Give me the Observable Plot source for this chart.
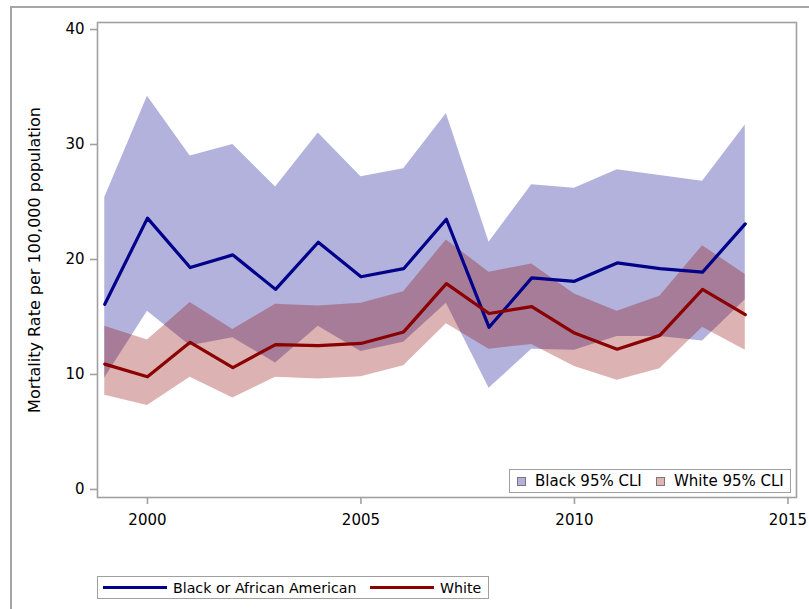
<!DOCTYPE html>
<html>
<head>
<meta charset="utf-8">
<script src="https://cdn.jsdelivr.net/npm/d3@7"></script>
<script src="https://cdn.jsdelivr.net/npm/@observablehq/plot@0.6"></script>
<style>
  html, body { margin: 0; padding: 0; background: #fff; overflow: hidden; }
  body { width: 809px; height: 609px; position: relative; font-family: "DejaVu Sans", sans-serif; }
  #outer { position: absolute; left: 10px; top: 6px; width: 900px; height: 700px;
           border-left: 2px solid #a6a6a6; border-top: 2px solid #a6a6a6; }
  #chart { position: absolute; left: 0; top: 0; }
  .legend { position: absolute; background: #fff; border: 1.5px solid #a0a0a0; box-sizing: border-box;
            font-size: 15px; color: #000; white-space: nowrap; }
  .legend span { position: absolute; top: 50%; transform: translateY(-50%); }
  .sw { position: absolute; width: 9px; height: 9px; box-sizing: border-box; border: 1px solid #777; }
  .ln { position: absolute; height: 3px; }
</style>
</head>
<body>
<div id="outer"></div>
<div id="chart"></div>
<div class="legend" id="legIn" style="left:509px; top:469px; width:282px; height:24px;">
  <div class="sw" style="left:7px; top:7px; background:#b3b0d9;"></div>
  <span style="left:25px;">Black 95% CLI</span>
  <div class="sw" style="left:146px; top:7px; background:#e1b3b3;"></div>
  <span style="left:164px;">White 95% CLI</span>
</div>
<div class="legend" id="legOut" style="left:97px; top:576px; width:392px; height:23px; font-size:14.2px;">
  <div class="ln" style="left:5px; top:9px; width:64px; background:#00008B;"></div>
  <span style="left:75px;">Black or African American</span>
  <div class="ln" style="left:272px; top:9px; width:64px; background:#8B0000;"></div>
  <span style="left:342px;">White</span>
</div>
<script>
const years = [1999, 2000, 2001, 2002, 2003, 2004, 2005, 2006, 2007, 2008, 2009, 2010, 2011, 2012, 2013, 2014];
const blackRate = [16.1, 23.6, 19.3, 20.4, 17.4, 21.5, 18.5, 19.2, 23.5, 14.1, 18.4, 18.1, 19.7, 19.2, 18.9, 23.1];
const blackLow  = [9.7, 15.5, 12.5, 13.2, 11.0, 14.2, 12.0, 12.8, 16.2, 8.8, 12.2, 12.1, 13.3, 13.3, 12.9, 16.5];
const blackHigh = [25.4, 34.2, 29.0, 30.0, 26.3, 31.0, 27.2, 27.9, 32.7, 21.5, 26.5, 26.2, 27.8, 27.3, 26.8, 31.7];
const whiteRate = [10.9, 9.8, 12.8, 10.6, 12.6, 12.5, 12.7, 13.7, 17.9, 15.3, 15.9, 13.6, 12.2, 13.4, 17.4, 15.2];
const whiteLow  = [8.2, 7.3, 9.75, 7.95, 9.75, 9.6, 9.8, 10.75, 14.4, 12.2, 12.6, 10.7, 9.5, 10.5, 14.1, 12.1];
const whiteHigh = [14.2, 13.0, 16.25, 13.9, 16.1, 15.95, 16.2, 17.2, 21.7, 18.9, 19.6, 17.0, 15.5, 16.8, 21.2, 18.7];
const xTicks = [2000, 2005, 2010, 2015];
const yTicks = [0, 10, 20, 30, 40];
const yLabel = "Mortality Rate per 100,000 population";

const black = years.map((year, i) => ({year, rate: blackRate[i], lo: blackLow[i], hi: blackHigh[i]}));
const white = years.map((year, i) => ({year, rate: whiteRate[i], lo: whiteLow[i], hi: whiteHigh[i]}));

const blue = "#00008B";
const red = "#8B0000";

const chart = Plot.plot({
  width: 809,
  height: 609,
  marginLeft: 97,
  marginTop: 22,
  marginRight: 13,
  marginBottom: 112,
  style: {fontFamily: "DejaVu Sans, sans-serif", fontSize: "15px", color: "#000", background: "transparent", overflow: "visible"},
  x: {domain: [1998.83, 2015.2]},
  y: {domain: [-0.7, 40.61]},
  marks: [
    Plot.areaY(black, {x: "year", y1: "lo", y2: "hi", fill: blue, fillOpacity: 0.3}),
    Plot.areaY(white, {x: "year", y1: "lo", y2: "hi", fill: red, fillOpacity: 0.3}),
    Plot.lineY(black, {x: "year", y: "rate", stroke: blue, strokeWidth: 3.2}),
    Plot.lineY(white, {x: "year", y: "rate", stroke: red, strokeWidth: 3.2}),
    Plot.frame({stroke: "#a0a0a0", strokeWidth: 1.6}),
    Plot.axisX({ticks: xTicks, tickFormat: d => String(d), tickSize: 7, tickPadding: 10, stroke: "#a0a0a0", strokeWidth: 1.6, label: null, fontSize: 15}),
    Plot.axisY({ticks: yTicks, tickSize: 7, tickPadding: 6, stroke: "#a0a0a0", strokeWidth: 1.6, fontSize: 15, label: null}),
    Plot.axisY({ticks: [], tickSize: 0, label: yLabel, labelAnchor: "center", labelArrow: "none", labelOffset: 69, fontSize: 16})
  ]
});
document.getElementById("chart").appendChild(chart);
</script>
</body>
</html>
